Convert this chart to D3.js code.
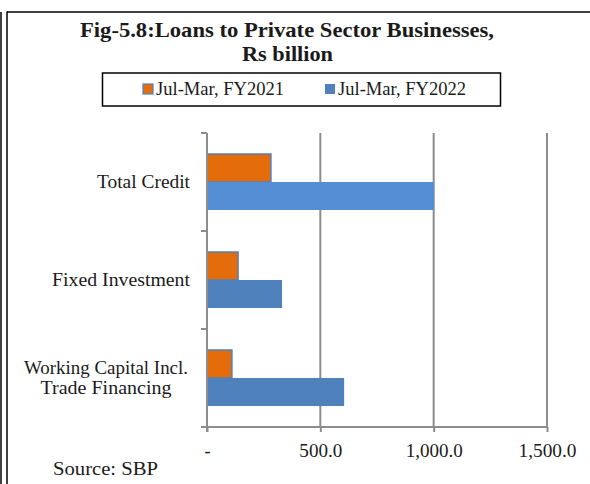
<!DOCTYPE html>
<html>
<head>
<meta charset="utf-8">
<script src="https://cdn.jsdelivr.net/npm/d3@7"></script>
<style>
  body { margin: 0; background: #fff; }
  svg text { font-family: "Liberation Serif", "DejaVu Serif", serif; fill: #1a1a1a; }
</style>
</head>
<body>
<div id="chart"></div>
<script>
// Data
var categories = ["Total Credit", "Fixed Investment", "Working Capital Incl. Trade Financing"]
var series = ["Jul-Mar, FY2021", "Jul-Mar, FY2022"]
var fy2021 = [282, 137, 110]
var fy2022 = [1002, 331, 605]
var tickVals = [0, 500, 1000, 1500]

var W = 590, H = 484
var orange = "#e46c0a"
var blues = ["#558ed5", "#4f81bd", "#4f81bd"]
var gridColor = "#8c8c8c"

// Cambria is not installed: stretch Liberation Serif to the reference widths
function fit(sel, w) {
  return sel.attr("textLength", w).attr("lengthAdjust", "spacingAndGlyphs")
}

var svg = d3.select("#chart").append("svg")
            .attr("width", W).attr("height", H)

// Frame
svg.append("line").attr("x1", 1).attr("x2", 1).attr("y1", 12).attr("y2", H)
   .attr("stroke", "#000").attr("stroke-width", 1.5)
svg.append("line").attr("x1", 7).attr("x2", 7).attr("y1", 11.5).attr("y2", H)
   .attr("stroke", "#000").attr("stroke-width", 1.5)
svg.append("line").attr("x1", 7).attr("x2", W).attr("y1", 12).attr("y2", 12)
   .attr("stroke", "#000").attr("stroke-width", 1.5)

// Title
var title = svg.append("g").attr("font-weight", "bold").attr("font-size", 21)
fit(title.append("text").attr("x", 287).attr("y", 37).attr("text-anchor", "middle")
     .text("Fig-5.8:Loans to Private Sector Businesses,"), 414)
fit(title.append("text").attr("x", 287.5).attr("y", 61).attr("text-anchor", "middle")
     .text("Rs billion"), 91)

// Legend
var leg = svg.append("g")
leg.append("rect").attr("x", 102.5).attr("y", 73).attr("width", 398).attr("height", 33)
   .attr("fill", "#fff").attr("stroke", "#000").attr("stroke-width", 1.5)
var legX = [143, 325]
series.forEach(function (s, i) {
  leg.append("rect").attr("x", legX[i]).attr("y", 84).attr("width", 10).attr("height", 10)
     .attr("fill", i == 0 ? orange : blues[1])
     .attr("stroke", i == 0 ? blues[1] : "none").attr("stroke-width", 1.2)
  fit(leg.append("text").attr("x", legX[i] + 13).attr("y", 95).attr("font-size", 18)
     .text(s), 128)
})

// Scales
var x = d3.scaleLinear().domain([0, 1500]).range([207, 547])
var y = d3.scaleBand().domain(categories).range([133, 427]).paddingInner(0).paddingOuter(0)
var ySub = d3.scaleBand().domain(series).range([0, y.bandwidth()]).paddingInner(0).paddingOuter(0.75)

var plot = svg.append("g")

// Gridlines
plot.selectAll("line.grid").data(tickVals.slice(1)).enter().append("line")
    .attr("class", "grid")
    .attr("x1", d => x(d)).attr("x2", d => x(d))
    .attr("y1", 133).attr("y2", 427)
    .attr("stroke", gridColor).attr("stroke-width", 2)

// Bars
var rows = categories.map((c, i) => ({cat: c, vals: [fy2021[i], fy2022[i]], i: i}))
var grp = plot.selectAll("g.cat").data(rows).enter().append("g")
    .attr("class", "cat")
    .attr("transform", d => "translate(0," + y(d.cat) + ")")
grp.selectAll("rect").data(d => d.vals.map((v, k) => ({v: v, s: series[k], k: k, i: d.i})))
   .enter().append("rect")
   .attr("x", x(0))
   .attr("y", d => ySub(d.s))
   .attr("width", d => x(d.v) - x(0))
   .attr("height", ySub.bandwidth())
   .attr("fill", d => d.k == 0 ? orange : blues[d.i])
   .attr("stroke", d => d.k == 0 ? blues[1] : "none")
   .attr("stroke-width", 1.5)

// Vertical (category) axis with ticks at band boundaries
var bounds = categories.map(c => y(c)).concat([y.range()[1]])
plot.append("line").attr("x1", x(0)).attr("x2", x(0)).attr("y1", 133).attr("y2", 432)
    .attr("stroke", gridColor).attr("stroke-width", 2)
plot.selectAll("line.ctick").data(bounds).enter().append("line")
    .attr("class", "ctick")
    .attr("x1", x(0) - 6).attr("x2", x(0))
    .attr("y1", d => d).attr("y2", d => d)
    .attr("stroke", gridColor).attr("stroke-width", 2)

// Category labels (wrapped label centred like Excel)
var labelLines = [["Total Credit"], ["Fixed Investment"], ["Working Capital Incl.", "Trade Financing"]]
var labelWidths = [[93], [138], [164, 131]]
var labelX = [190, 190, 106]
var labelAnchor = ["end", "end", "middle"]
categories.forEach(function (c, i) {
  var lines = labelLines[i]
  var cy = y(c) + y.bandwidth() / 2
  lines.forEach(function (t, j) {
    fit(svg.append("text")
       .attr("x", labelX[i]).attr("y", cy + 6 + (j - (lines.length - 1) / 2) * 20)
       .attr("text-anchor", labelAnchor[i]).attr("font-size", 18)
       .text(t), labelWidths[i][j])
  })
})

// Value axis
var tickWidths = [null, 43, 57, 58]
var xAxis = d3.axisBottom(x).tickValues(tickVals).tickSize(5).tickPadding(12)
    .tickFormat(d => d === 0 ? "-" : d3.format(",.1f")(d))
var ax = svg.append("g").attr("transform", "translate(0,427)").call(xAxis)
ax.select(".domain").remove()
ax.append("line").attr("x1", x(0) - 6).attr("x2", x(1500)).attr("y1", 0).attr("y2", 0)
  .attr("stroke", gridColor).attr("stroke-width", 2)
ax.selectAll(".tick line").attr("stroke", gridColor).attr("stroke-width", 2)
ax.selectAll(".tick text").attr("font-size", 18).attr("fill", "#1a1a1a")
  .attr("font-family", "Liberation Serif, serif")
  .each(function (d, i) { if (tickWidths[i]) fit(d3.select(this), tickWidths[i]) })

// Source
fit(svg.append("text").attr("x", 53).attr("y", 475).attr("font-size", 19).text("Source: SBP"), 105)
</script>
</body>
</html>
